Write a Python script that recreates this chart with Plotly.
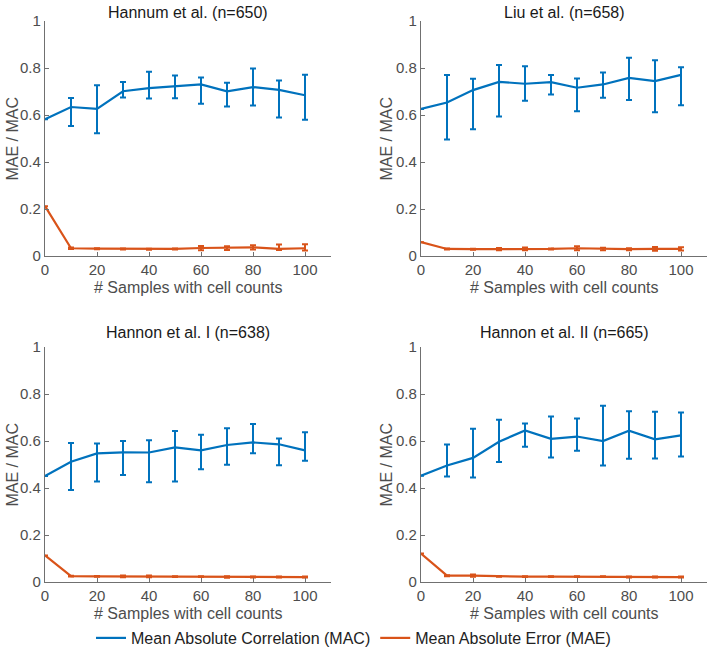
import plotly.graph_objects as go

x_samples = [0, 10, 20, 30, 40, 50, 60, 70, 80, 90, 100]

panel_titles = ["Hannum et al. (n=650)", "Liu et al. (n=658)",
                "Hannon et al. I (n=638)", "Hannon et al. II (n=665)"]
x_title = "# Samples with cell counts"
y_title = "MAE / MAC"

# Mean Absolute Correlation (MAC): mean, upper, lower
mac_hannum = [0.582, 0.634, 0.626, 0.701, 0.714, 0.721, 0.730, 0.701, 0.719, 0.707, 0.684]
mac_hannum_hi = [0.582, 0.672, 0.727, 0.740, 0.784, 0.768, 0.760, 0.737, 0.798, 0.747, 0.771]
mac_hannum_lo = [0.582, 0.553, 0.522, 0.674, 0.670, 0.671, 0.648, 0.636, 0.640, 0.589, 0.580]

mac_liu = [0.626, 0.653, 0.706, 0.741, 0.733, 0.740, 0.716, 0.730, 0.758, 0.744, 0.771]
mac_liu_hi = [0.626, 0.770, 0.754, 0.813, 0.807, 0.770, 0.755, 0.781, 0.844, 0.833, 0.803]
mac_liu_lo = [0.626, 0.496, 0.539, 0.594, 0.661, 0.687, 0.616, 0.673, 0.664, 0.612, 0.642]

mac_hannon1 = [0.451, 0.512, 0.547, 0.552, 0.551, 0.573, 0.560, 0.583, 0.594, 0.586, 0.560]
mac_hannon1_hi = [0.451, 0.592, 0.589, 0.600, 0.603, 0.643, 0.627, 0.654, 0.672, 0.611, 0.637]
mac_hannon1_lo = [0.451, 0.392, 0.428, 0.455, 0.425, 0.428, 0.480, 0.499, 0.548, 0.497, 0.516]

mac_hannon2 = [0.452, 0.496, 0.528, 0.597, 0.645, 0.609, 0.619, 0.600, 0.644, 0.607, 0.624]
mac_hannon2_hi = [0.452, 0.585, 0.652, 0.690, 0.675, 0.704, 0.696, 0.750, 0.727, 0.724, 0.721]
mac_hannon2_lo = [0.452, 0.449, 0.445, 0.511, 0.576, 0.530, 0.559, 0.496, 0.524, 0.526, 0.534]

# Mean Absolute Error (MAE): mean, upper, lower
mae_hannum = [0.212, 0.033, 0.031, 0.030, 0.029, 0.030, 0.034, 0.034, 0.037, 0.030, 0.033]
mae_hannum_hi = [0.212, 0.036, 0.033, 0.032, 0.031, 0.032, 0.043, 0.042, 0.046, 0.049, 0.050]
mae_hannum_lo = [0.212, 0.030, 0.029, 0.028, 0.027, 0.028, 0.025, 0.026, 0.028, 0.026, 0.023]

mae_liu = [0.059, 0.030, 0.029, 0.029, 0.030, 0.030, 0.033, 0.030, 0.029, 0.030, 0.030]
mae_liu_hi = [0.059, 0.032, 0.031, 0.034, 0.036, 0.032, 0.041, 0.035, 0.033, 0.038, 0.037]
mae_liu_lo = [0.059, 0.028, 0.027, 0.024, 0.024, 0.028, 0.025, 0.025, 0.025, 0.022, 0.023]

mae_hannon1 = [0.113, 0.025, 0.024, 0.024, 0.024, 0.023, 0.023, 0.021, 0.021, 0.021, 0.021]
mae_hannon1_hi = [0.113, 0.027, 0.026, 0.028, 0.028, 0.025, 0.025, 0.024, 0.023, 0.023, 0.023]
mae_hannon1_lo = [0.113, 0.023, 0.022, 0.020, 0.020, 0.021, 0.021, 0.018, 0.019, 0.019, 0.019]

mae_hannon2 = [0.121, 0.027, 0.027, 0.024, 0.023, 0.023, 0.023, 0.023, 0.021, 0.021, 0.021]
mae_hannon2_hi = [0.121, 0.029, 0.032, 0.026, 0.025, 0.025, 0.025, 0.025, 0.023, 0.023, 0.023]
mae_hannon2_lo = [0.121, 0.025, 0.022, 0.022, 0.021, 0.021, 0.021, 0.021, 0.019, 0.019, 0.019]

x_tickvals = [0, 20, 40, 60, 80, 100]
y_tickvals = [0, 0.2, 0.4, 0.6, 0.8, 1]
y_ticktext = ["0", "0.2", "0.4", "0.6", "0.8", "1"]

series_names = ["Mean Absolute Correlation (MAC)", "Mean Absolute Error (MAE)"]

BLUE = "#0072BD"
ORANGE = "#D95319"
AXIS = "#707070"
TEXT = "#4d4d4d"
FONT = "Liberation Sans, Arial, sans-serif"

panels = [
    (mac_hannum, mac_hannum_hi, mac_hannum_lo, mae_hannum, mae_hannum_hi, mae_hannum_lo),
    (mac_liu, mac_liu_hi, mac_liu_lo, mae_liu, mae_liu_hi, mae_liu_lo),
    (mac_hannon1, mac_hannon1_hi, mac_hannon1_lo, mae_hannon1, mae_hannon1_hi, mae_hannon1_lo),
    (mac_hannon2, mac_hannon2_hi, mac_hannon2_lo, mae_hannon2, mae_hannon2_hi, mae_hannon2_lo),
]

W, H = 707, 656
xdomains = [[45 / W, 331 / W], [421 / W, 1.0]]
ydomains = [[1 - 256 / H, 1 - 21 / H], [1 - 582 / H, 1 - 347 / H]]
title_y = [1 - 12 / H, 1 - 333 / H]
title_x = [(45 + 143) / W, (421 + 143) / W]
xtitle_y = [1 - 287 / H, 1 - 613 / H]
ytitle_x = [12 / W, 386 / W]

fig = go.Figure()

def err(mean, hi, lo):
    return [h - m for h, m in zip(hi, mean)], [m - l for m, l in zip(mean, lo)]

for i, (mac, mac_hi, mac_lo, mae, mae_hi, mae_lo) in enumerate(panels):
    ax = "" if i == 0 else str(i + 1)
    for j, (mean, hi, lo, color) in enumerate([(mac, mac_hi, mac_lo, BLUE), (mae, mae_hi, mae_lo, ORANGE)]):
        up, down = err(mean, hi, lo)
        fig.add_trace(go.Scatter(
            x=x_samples, y=mean, mode="lines",
            line=dict(color=color, width=2.2),
            error_y=dict(type="data", symmetric=False, array=up, arrayminus=down,
                         color=color, thickness=2, width=3),
            name=series_names[j], showlegend=(i == 0),
            xaxis="x" + ax, yaxis="y" + ax,
        ))

layout = dict(
    width=W, height=H,
    margin=dict(l=0, r=0, t=0, b=0, autoexpand=False),
    paper_bgcolor="white", plot_bgcolor="white",
    font=dict(family=FONT, size=16, color=TEXT),
    legend=dict(orientation="h", x=0.5, xanchor="center", y=1 - 638 / H, yanchor="middle",
                font=dict(size=16, color="#222222"), itemwidth=30,
                bgcolor="rgba(0,0,0,0)"),
    annotations=[],
)

for i in range(4):
    r, c = divmod(i, 2)
    ax = "" if i == 0 else str(i + 1)
    layout["xaxis" + ax] = dict(
        domain=xdomains[c], anchor="y" + ax, range=[0, 110],
        tickvals=x_tickvals, ticks="inside", ticklen=4, tickcolor=AXIS,
        showline=True, linecolor=AXIS, linewidth=1.3, showgrid=False, zeroline=False,
        tickfont=dict(size=15, color=TEXT), automargin=False,
    )
    layout["yaxis" + ax] = dict(
        domain=ydomains[r], anchor="x" + ax, range=[0, 1],
        tickvals=y_tickvals, ticktext=y_ticktext, ticks="inside", ticklen=4, tickcolor=AXIS,
        showline=True, linecolor=AXIS, linewidth=1.3, showgrid=False, zeroline=False,
        tickfont=dict(size=15, color=TEXT), automargin=False,
    )
    layout["annotations"].append(dict(
        text=panel_titles[i], xref="paper", yref="paper",
        x=title_x[c], y=title_y[r], xanchor="center", yanchor="middle",
        showarrow=False, font=dict(size=16, color="#1a1a1a"),
    ))
    layout["annotations"].append(dict(
        text=x_title, xref="paper", yref="paper",
        x=title_x[c], y=xtitle_y[r], xanchor="center", yanchor="middle",
        showarrow=False, font=dict(size=16, color=TEXT),
    ))
    layout["annotations"].append(dict(
        text=y_title, xref="paper", yref="paper", textangle=-90,
        x=ytitle_x[c], y=(ydomains[r][0] + ydomains[r][1]) / 2,
        xanchor="center", yanchor="middle",
        showarrow=False, font=dict(size=16, color=TEXT),
    ))

fig.update_layout(**layout)
fig.write_html("out.html", config={"displayModeBar": False},
               post_script="document.body.style.margin='0';document.body.style.padding='0';")
